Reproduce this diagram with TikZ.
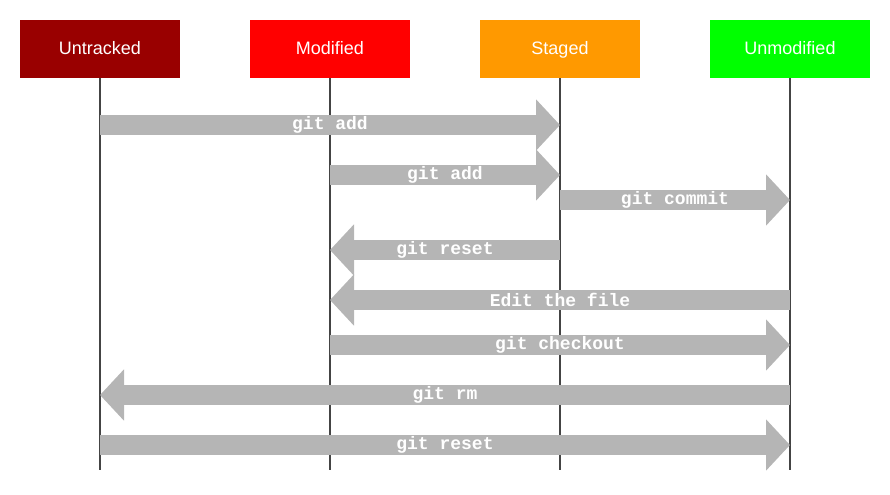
\documentclass[tikz,border=0pt]{standalone}
\usepackage{fontspec}
\setmainfont{Liberation Sans}
\newfontfamily\codefont{Liberation Mono}
\usetikzlibrary{arrows.meta}
\definecolor{untracked}{HTML}{990000}
\definecolor{modified}{HTML}{FF0000}
\definecolor{staged}{HTML}{FF9900}
\definecolor{unmodified}{HTML}{00FF00}
\definecolor{lifegray}{HTML}{444444}
\definecolor{arrowgray}{HTML}{B5B5B5}
\begin{document}
\begin{tikzpicture}[x=0.75pt,y=0.75pt,
  state/.style={minimum width=120pt,minimum height=43.5pt,inner sep=0pt,text=white,text height=0.82em,text depth=0pt,font=\fontsize{13.5}{16}\selectfont},
  life/.style={line width=1.5pt,draw=lifegray},
  move/.style={line width=15pt,draw=arrowgray,-{Triangle[length=18pt,width=37.5pt]}},
  cmd/.style={text=white,inner sep=0pt,font=\codefont\bfseries\fontsize{13.5}{16}\selectfont}]
\useasboundingbox (0,0) rectangle (890,494);
% states
\node[state,fill=untracked](U) at (100,445){Untracked};
\node[state,fill=modified](M) at (330,445){Modified};
\node[state,fill=staged](S) at (560,445){Staged};
\node[state,fill=unmodified](C) at (790,445){Unmodified};
% lifelines
\coordinate (bot) at (0,24);
\draw[life](U.south)--(U|-bot);
\draw[life](M.south)--(M|-bot);
\draw[life](S.south)--(S|-bot);
\draw[life](C.south)--(C|-bot);
% rows
\coordinate (r1) at (0,369);
\coordinate (r2) at (0,319);
\coordinate (r3) at (0,294);
\coordinate (r4) at (0,244);
\coordinate (r5) at (0,194);
\coordinate (r6) at (0,149);
\coordinate (r7) at (0,99);
\coordinate (r8) at (0,49);
% transitions
\draw[move](U|-r1)--(S|-r1)node[cmd,midway]{git add};
\draw[move](M|-r2)--(S|-r2)node[cmd,midway]{git add};
\draw[move](S|-r3)--(C|-r3)node[cmd,midway]{git commit};
\draw[move](S|-r4)--(M|-r4)node[cmd,midway]{git reset};
\draw[move](C|-r5)--(M|-r5)node[cmd,midway]{Edit the file};
\draw[move](M|-r6)--(C|-r6)node[cmd,midway]{git checkout};
\draw[move](C|-r7)--(U|-r7)node[cmd,midway]{git rm};
\draw[move](U|-r8)--(C|-r8)node[cmd,midway]{git reset};
\end{tikzpicture}
\end{document}
